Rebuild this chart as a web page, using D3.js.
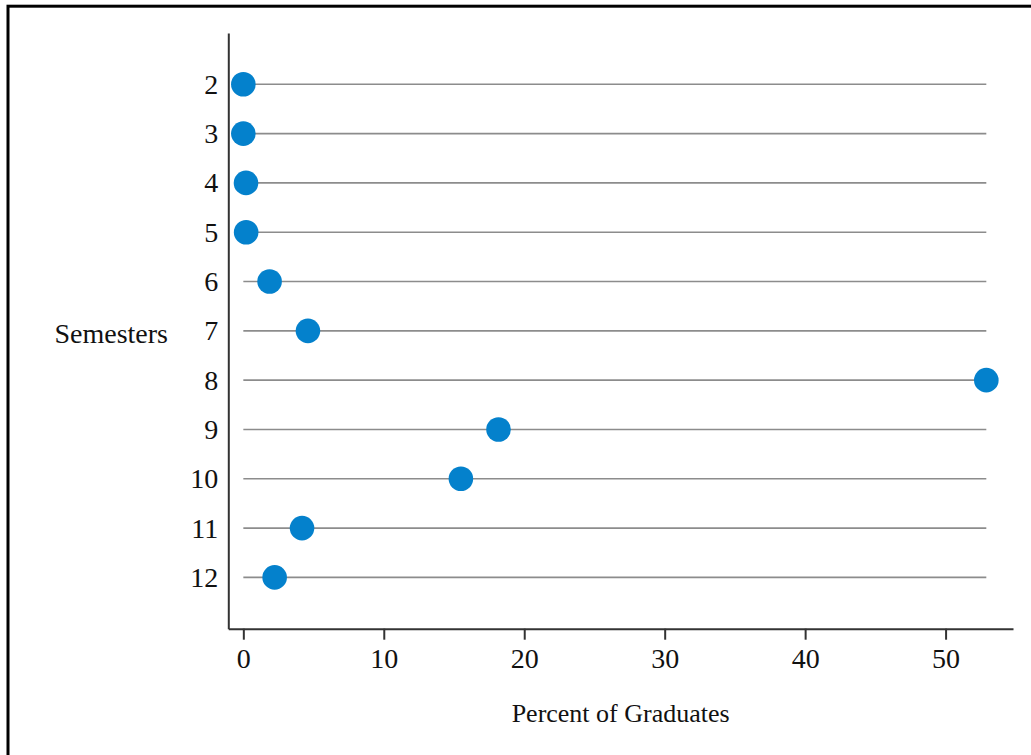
<!DOCTYPE html>
<html>
<head>
<meta charset="utf-8">
<script src="https://cdn.jsdelivr.net/npm/d3@7"></script>
<style>
  body { margin: 0; background: #fff; }
  svg { display: block; }
  .axis text { font-family: "Liberation Serif", "Times New Roman", serif; font-size: 28px; fill: #111; }
  .axis path, .axis line { stroke: #333; stroke-width: 2; }
  .title { font-family: "Liberation Serif", "Times New Roman", serif; font-size: 26px; fill: #111; }
</style>
</head>
<body>
<svg width="1031" height="755"></svg>
<script>
// data
const semesters = ["2", "3", "4", "5", "6", "7", "8", "9", "10", "11", "12"];
const percentGraduates = [0.0, 0.0, 0.19, 0.2, 1.87, 4.6, 52.9, 18.17, 15.49, 4.18, 2.23];
const xTicks = [0, 10, 20, 30, 40, 50];

const svg = d3.select("svg");
const width = +svg.attr("width");
const height = +svg.attr("height");

// outer frame
svg.append("rect")
    .attr("x", 8)
    .attr("y", 6.2)
    .attr("width", width + 10)
    .attr("height", height + 10)
    .attr("fill", "none")
    .attr("stroke", "#000")
    .attr("stroke-width", 3);

const plot = { left: 228.3, right: 1013, top: 33, bottom: 628.7 };

const x = d3.scaleLinear()
    .domain([-1.07, 54.8])
    .range([plot.left, plot.right]);

const y = d3.scalePoint()
    .domain(semesters)
    .range([plot.top, plot.bottom])
    .padding(1.04);

const data = semesters.map((s, i) => ({ sem: s, pct: percentGraduates[i] }));
const maxPct = d3.max(percentGraduates);

// stems (gray lines from 0 to the max value)
svg.append("g")
    .selectAll("line")
    .data(data)
    .enter()
    .append("line")
    .attr("x1", x(0))
    .attr("x2", x(maxPct))
    .attr("y1", d => y(d.sem))
    .attr("y2", d => y(d.sem))
    .attr("stroke", "#8c8c8c")
    .attr("stroke-width", 1.6);

// axes
svg.append("g")
    .attr("class", "axis")
    .attr("transform", `translate(0,${plot.bottom})`)
    .call(d3.axisBottom(x).tickValues(xTicks).tickSize(11).tickSizeOuter(0).tickPadding(8));

svg.append("g")
    .attr("class", "axis")
    .attr("transform", `translate(${plot.left},0)`)
    .call(d3.axisLeft(y).tickSize(0).tickPadding(10));

// dots
svg.append("g")
    .selectAll("circle")
    .data(data)
    .enter()
    .append("circle")
    .attr("cx", d => x(d.pct))
    .attr("cy", d => y(d.sem))
    .attr("r", 12.3)
    .attr("fill", "#0481cc");

// axis titles
svg.append("text")
    .attr("class", "title")
    .attr("x", (plot.left + plot.right) / 2)
    .attr("y", 722)
    .attr("text-anchor", "middle")
    .text("Percent of Graduates");

svg.append("text")
    .attr("class", "title")
    .attr("x", 168)
    .attr("y", 343)
    .attr("text-anchor", "end")
    .style("font-size", "28px")
    .text("Semesters");
</script>
</body>
</html>
